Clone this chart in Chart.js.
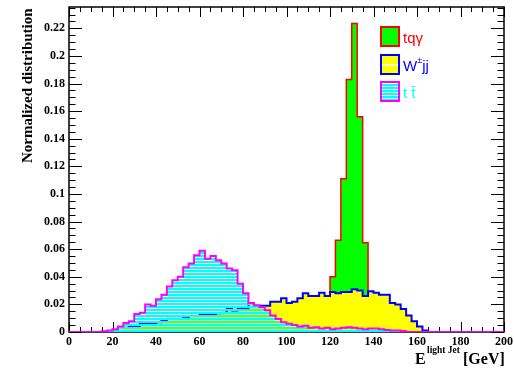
<!DOCTYPE html>
<html>
<head>
<meta charset="utf-8">
<script src="https://cdn.jsdelivr.net/npm/chart.js@4.4.0/dist/chart.umd.min.js"></script>
<style>
  html, body { margin: 0; padding: 0; background: #fff; }
  #wrap { width: 514px; height: 369px; }
</style>
</head>
<body>
<div id="wrap"><canvas id="histo" width="514" height="369"></canvas></div>
<script>
// 80 bins of 2.5 GeV between 0 and 200
const BIN_WIDTH = 2.5;
const X_TICKS = [0, 20, 40, 60, 80, 100, 120, 140, 160, 180, 200];
const Y_TICKS = [0, 0.02, 0.04, 0.06, 0.08, 0.1, 0.12, 0.14, 0.16, 0.18, 0.2, 0.22];
const LABELS = ['tq\u03b3', 'W\u00b1jj', 't t\u0304'];

const TQA = [
  0, 0, 0, 0, 0, 0, 0, 0, 0, 0,
  0.0005, 0.001, 0.001, 0.0015, 0.0015, 0.002, 0.002, 0.002, 0.0025, 0.0025,
  0.0025, 0.003, 0.003, 0.003, 0.003, 0.003, 0.003, 0.003, 0.003, 0.003,
  0.003, 0.003, 0.003, 0.003, 0.003, 0.003, 0.0035, 0.0035, 0.004, 0.004,
  0.004, 0.004, 0.004, 0.004, 0.0045, 0.005, 0.006, 0.008, 0.040, 0.0665,
  0.111, 0.183, 0.2236, 0.156, 0.0646, 0.003, 0.002, 0.001, 0.001, 0.001,
  0.001, 0, 0, 0, 0, 0, 0, 0, 0, 0,
  0, 0, 0, 0, 0, 0, 0, 0, 0, 0
];

const WJJ = [
  0, 0, 0, 0, 0, 0, 0, 0, 0.001, 0.003,
  0.003, 0.0043, 0.0043, 0.0063, 0.0063, 0.0063, 0.007, 0.0082, 0.0096, 0.0096,
  0.0096, 0.010, 0.0116, 0.0116, 0.0123, 0.0123, 0.013, 0.0135, 0.014, 0.0167,
  0.0155, 0.0167, 0.0167, 0.021, 0.019, 0.019, 0.019, 0.022, 0.022, 0.0244,
  0.021, 0.022, 0.0244, 0.028, 0.026, 0.026, 0.0285, 0.026, 0.029, 0.028,
  0.029, 0.029, 0.031, 0.030, 0.026, 0.0295, 0.0285, 0.027, 0.027, 0.021,
  0.020, 0.0167, 0.012, 0.0077, 0.004, 0.001, 0, 0, 0, 0,
  0, 0, 0, 0, 0, 0, 0, 0, 0, 0
];

const TTBAR = [
  0, 0, 0, 0, 0, 0, 0.0005, 0.001, 0.002, 0.004,
  0.0065, 0.0077, 0.013, 0.014, 0.020, 0.019, 0.0237, 0.027, 0.033, 0.0375,
  0.040, 0.047, 0.0496, 0.0556, 0.0588, 0.053, 0.055, 0.052, 0.0496, 0.046,
  0.0447, 0.035, 0.028, 0.021, 0.0193, 0.018, 0.0157, 0.012, 0.0095, 0.007,
  0.006, 0.005, 0.004, 0.0045, 0.003, 0.0035, 0.0025, 0.003, 0.002, 0.0025,
  0.003, 0.0035, 0.003, 0.0025, 0.002, 0.0025, 0.0025, 0.002, 0.0015, 0.001,
  0.001, 0.0008, 0, 0, 0, 0, 0, 0, 0, 0,
  0, 0, 0, 0, 0, 0, 0, 0, 0, 0
];

// points at left bin edges, stepped line keeps the value across the bin
function histPoints(vals) {
  const pts = vals.map((v, i) => ({ x: i * BIN_WIDTH, y: v }));
  pts.push({ x: vals.length * BIN_WIDTH, y: 0 });
  return pts;
}

// horizontal cyan hatch, gaps transparent like ROOT's fill style
function hatch() {
  const c = document.createElement('canvas');
  c.width = 4; c.height = 3;
  const g = c.getContext('2d');
  g.fillStyle = '#00ffff';
  g.fillRect(0, 0, 4, 2);
  return g.createPattern(c, 'repeat');
}
const HATCH = hatch();

const SERIF = '"Liberation Serif", "Times New Roman", serif';
const SANS = '"Liberation Sans", Arial, sans-serif';

const rootFrame = {
  id: 'rootFrame',
  beforeDatasetsDraw(chart) {
    const { ctx, chartArea: { left, right, top, bottom }, scales: { x, y } } = chart;
    ctx.save();
    ctx.strokeStyle = '#000';
    ctx.lineWidth = 1;
    ctx.beginPath();
    for (let v = 0; v <= 200; v += 5) {
      const px = Math.round(x.getPixelForValue(v)) + 0.5;
      const len = v % 20 === 0 ? 10 : 5;
      ctx.moveTo(px, bottom); ctx.lineTo(px, bottom - len);
      ctx.moveTo(px, top); ctx.lineTo(px, top + len);
    }
    for (let i = 0; i * 0.005 <= 0.2355; i++) {
      const py = Math.round(y.getPixelForValue(i * 0.005)) + 0.5;
      const len = i % 4 === 0 ? 13 : 6.5;
      ctx.moveTo(left, py); ctx.lineTo(left + len, py);
      ctx.moveTo(right, py); ctx.lineTo(right - len, py);
    }
    ctx.stroke();
    ctx.lineWidth = 1.5;
    ctx.strokeRect(left, top, right - left, bottom - top);
    ctx.restore();
  },
  afterDraw(chart) {
    const { ctx } = chart;
    ctx.save();
    // y title
    ctx.fillStyle = '#000';
    ctx.font = 'bold 15px ' + SERIF;
    ctx.translate(28.5, 163);
    ctx.rotate(-Math.PI / 2);
    ctx.textAlign = 'left';
    ctx.textBaseline = 'middle';
    ctx.fillText('Normalized distribution', 0, 0);
    ctx.restore();

    // x title
    ctx.save();
    ctx.fillStyle = '#000';
    ctx.textBaseline = 'alphabetic';
    ctx.font = 'bold 16px ' + SERIF;
    ctx.fillText('E', 415, 364);
    ctx.font = 'bold 9.5px ' + SERIF;
    ctx.fillText('light Jet', 427, 353);
    ctx.font = 'bold 16px ' + SERIF;
    ctx.fillText('[GeV]', 463, 364);
    ctx.restore();

    // legend
    const rows = [
      { y: 27, fill: '#00ff00', border: '#ff0000', text: '#ff0000' },
      { y: 55, fill: '#ffff00', border: '#0000ff', text: '#0000ff' },
      { y: 82, fill: HATCH, border: '#ff00ff', text: '#00ffff' }
    ];
    ctx.save();
    rows.forEach((r, i) => {
      ctx.fillStyle = r.fill;
      ctx.fillRect(381, r.y, 18, 19);
      if (i === 1) {
        ctx.fillStyle = '#fff';
        ctx.fillRect(382, r.y + 9, 16, 1.5);
      }
      ctx.strokeStyle = r.border;
      ctx.lineWidth = 2;
      ctx.strokeRect(381, r.y, 18, 19);
      ctx.fillStyle = r.text;
      ctx.textBaseline = 'alphabetic';
      ctx.font = '15px ' + SANS;
      if (i === 1) {
        ctx.fillText('W', 403, r.y + 16);
        const w = ctx.measureText('W').width;
        ctx.font = '9px ' + SANS;
        ctx.fillText('\u00b1', 403 + w, r.y + 8);
        ctx.font = '15px ' + SANS;
        ctx.fillText('jj', 403 + w + 5, r.y + 16);
      } else {
        ctx.fillText(LABELS[i === 0 ? 0 : 2], 403, r.y + 16);
      }
    });
    ctx.restore();
  }
};

new Chart(document.getElementById('histo'), {
  type: 'line',
  data: {
    datasets: [
      {
        label: LABELS[2],
        data: histPoints(TTBAR),
        borderColor: '#ff00ff',
        backgroundColor: HATCH,
        borderWidth: 2,
        fill: 'origin',
        order: 1
      },
      {
        label: LABELS[1],
        data: histPoints(WJJ),
        borderColor: '#0000ff',
        backgroundColor: '#ffff00',
        borderWidth: 2,
        fill: 'origin',
        order: 2
      },
      {
        label: LABELS[0],
        data: histPoints(TQA),
        borderColor: '#ff0000',
        backgroundColor: '#00ff00',
        borderWidth: 1.5,
        fill: 'origin',
        order: 3
      }
    ]
  },
  options: {
    responsive: false,
    animation: false,
    layout: { padding: { top: 7, right: 10, left: 0, bottom: 0 } },
    elements: {
      point: { radius: 0 },
      line: { stepped: true, tension: 0, borderJoinStyle: 'miter' }
    },
    plugins: { legend: { display: false }, tooltip: { enabled: false } },
    scales: {
      x: {
        type: 'linear',
        min: 0,
        max: 200,
        afterBuildTicks: s => { s.ticks = X_TICKS.map(v => ({ value: v })); },
        afterFit: s => { s.height = 37; s.paddingLeft = 0; s.paddingRight = 0; },
        grid: { display: false, drawTicks: false },
        border: { display: false },
        ticks: {
          autoSkip: false,
          maxRotation: 0,
          padding: 3,
          color: '#000',
          font: { family: SERIF, size: 12, weight: 'bold' }
        }
      },
      y: {
        type: 'linear',
        min: 0,
        max: 0.2355,
        afterBuildTicks: s => { s.ticks = Y_TICKS.map(v => ({ value: v })); },
        afterFit: s => { s.width = 69; s.paddingTop = 0; s.paddingBottom = 0; },
        grid: { display: false, drawTicks: false },
        border: { display: false },
        ticks: {
          padding: 4,
          color: '#000',
          font: { family: SERIF, size: 12, weight: 'bold' },
          callback: v => String(+v.toFixed(3))
        }
      }
    }
  },
  plugins: [rootFrame]
});
</script>
</body>
</html>
